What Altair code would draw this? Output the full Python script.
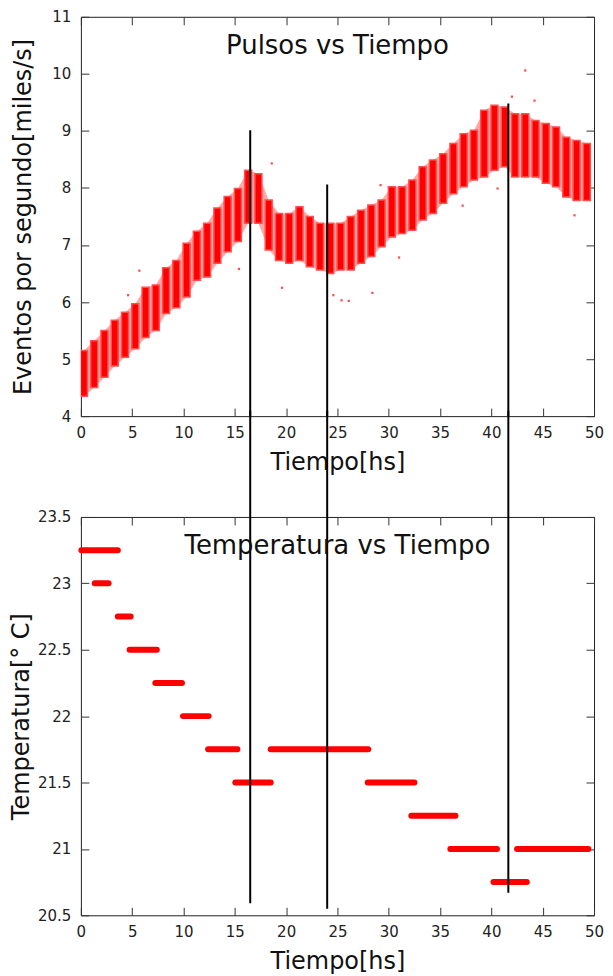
import altair as alt
import pandas as pd

FONT = "DejaVu Sans"
RED = "#ff0000"

# ---- Top panel: pulses (streak centres in hours, lower / upper edge of each streak) ----
pulse_t = [0.3, 1.3, 2.3, 3.3, 4.3, 5.3, 6.3, 7.3, 8.3, 9.3,
           10.3, 11.3, 12.3, 13.3, 14.3, 15.3, 16.3, 17.3, 18.3, 19.3,
           20.3, 21.3, 22.3, 23.3, 24.3, 25.3, 26.3, 27.3, 28.3, 29.3,
           30.3, 31.3, 32.3, 33.3, 34.3, 35.3, 36.3, 37.3, 38.3, 39.3,
           40.3, 41.3, 42.3, 43.3, 44.3, 45.3, 46.3, 47.3, 48.3, 49.3]
pulse_lo = [4.35, 4.50, 4.68, 4.88, 5.03, 5.18, 5.38, 5.50, 5.80, 5.90,
            6.09, 6.38, 6.44, 6.68, 6.88, 7.06, 7.38, 7.38, 6.91, 6.73,
            6.68, 6.73, 6.62, 6.56, 6.50, 6.56, 6.56, 6.68, 6.80, 6.97,
            7.14, 7.20, 7.26, 7.44, 7.55, 7.73, 7.90, 8.02, 8.14, 8.19,
            8.31, 8.37, 8.19, 8.19, 8.19, 8.08, 8.02, 7.84, 7.78, 7.78]
pulse_hi = [5.15, 5.32, 5.50, 5.68, 5.82, 5.97, 6.26, 6.30, 6.60, 6.73,
            7.03, 7.24, 7.38, 7.65, 7.85, 7.99, 8.31, 8.25, 7.79, 7.55,
            7.55, 7.67, 7.50, 7.38, 7.38, 7.38, 7.50, 7.61, 7.70, 7.79,
            8.02, 8.02, 8.14, 8.37, 8.49, 8.60, 8.78, 8.95, 9.01, 9.36,
            9.45, 9.42, 9.30, 9.30, 9.18, 9.13, 9.07, 8.89, 8.83, 8.78]

# isolated points outside the streaks
out_t = [4.6, 5.7, 15.4, 18.6, 19.6, 24.6, 25.4, 26.1, 28.4, 29.2,
         31.0, 37.2, 40.6, 42.0, 43.3, 44.2, 48.1]
out_v = [6.12, 6.55, 6.58, 8.43, 6.25, 6.12, 6.03, 6.02, 6.16, 8.05,
         6.78, 7.69, 7.99, 9.60, 10.06, 9.53, 7.52]

# ---- Bottom panel: temperature plateaus ----
temp_t0 = [0.05, 1.35, 3.60, 4.75, 7.25, 9.95, 12.40, 15.05, 18.50, 27.95, 32.20, 36.00, 40.20, 42.50]
temp_t1 = [3.60, 2.70, 4.85, 7.40, 9.85, 12.45, 15.25, 18.50, 28.00, 32.50, 36.50, 40.55, 43.45, 49.45]
temp_v = [23.25, 23.00, 22.75, 22.50, 22.25, 22.00, 21.75, 21.50, 21.75, 21.50, 21.25, 21.00, 20.75, 21.00]

# ---- Black vertical marker lines (hours, top end in pulses, bottom end in temperature) ----
mark_t = [16.5, 24.0, 41.65]
mark_top = [9.01, 8.06, 9.48]
mark_bottom = [20.59, 20.55, 20.67]

panel_titles = ["Pulsos vs Tiempo", "Temperatura vs Tiempo"]
x_ticks = [0, 5, 10, 15, 20, 25, 30, 35, 40, 45, 50]
y1_ticks = [4, 5, 6, 7, 8, 9, 10, 11]
y2_ticks = [20.5, 21, 21.5, 22, 22.5, 23, 23.5]

W = 514
H1 = 400
H2 = 399
GAP = 101
TICK = 8

pulse_df = pd.DataFrame({"t": pulse_t, "lo": pulse_lo, "hi": pulse_hi})
out_df = pd.DataFrame({"t": out_t, "v": out_v})
temp_df = pd.DataFrame({"t0": temp_t0, "t1": temp_t1, "temp": temp_v})
mark_df = pd.DataFrame({"t": mark_t, "top": mark_top, "bottom": mark_bottom})

xs = alt.Scale(domain=[0, 50], nice=False, zero=False, padding=0)
ys1 = alt.Scale(domain=[4, 11], nice=False, zero=False, padding=0)
ys2 = alt.Scale(domain=[20.5, 23.5], nice=False, zero=False, padding=0)


def x_main():
    return alt.Axis(orient="bottom", offset=-TICK, tickSize=TICK, domain=False,
                    values=x_ticks, labelPadding=9, labelFlush=False,
                    title="Tiempo[hs]", titlePadding=10)


def x_mirror():
    return alt.Axis(orient="top", offset=-TICK, tickSize=TICK, domain=False,
                    values=x_ticks, labels=False, title=None, minExtent=0)


def y_main(vals, title, tpad):
    return alt.Axis(orient="left", offset=-TICK, tickSize=TICK, domain=False,
                    values=vals, labelPadding=10, labelFlush=False, format="~g",
                    title=title, titlePadding=tpad)


def y_mirror(vals):
    return alt.Axis(orient="right", offset=-TICK, tickSize=TICK, domain=False,
                    values=vals, labels=False, title=None, minExtent=0)


# ---------- top panel ----------
band = alt.Chart(pulse_df).mark_area(color="#ffa8a8", clip=True).encode(
    x=alt.X("t:Q", scale=xs, axis=None),
    y=alt.Y("lo:Q", scale=ys1, axis=None),
    y2="hi:Q",
)
streaks = alt.Chart(pulse_df).mark_bar(size=7, color=RED, stroke="#ff5050",
                                       strokeWidth=1.5, clip=True).encode(
    x=alt.X("t:Q", scale=xs, axis=x_main()),
    y=alt.Y("lo:Q", scale=ys1, axis=y_main(y1_ticks, "Eventos por segundo[miles/s]", 16)),
    y2="hi:Q",
)
outliers = alt.Chart(out_df).mark_square(size=5, color=RED, opacity=0.7).encode(
    x=alt.X("t:Q", scale=xs, axis=x_mirror()),
    y=alt.Y("v:Q", scale=ys1, axis=y_mirror(y1_ticks)),
)
marks_top = alt.Chart(mark_df).mark_rule(color="black", strokeWidth=2, clip=False).encode(
    x=alt.X("t:Q", scale=xs, axis=None),
    y=alt.Y("top:Q", scale=ys1, axis=None),
    y2=alt.Y2Datum(4),
)
title_top = alt.Chart(pd.DataFrame({"label": [panel_titles[0]]})).mark_text(
    font=FONT, fontSize=26, align="center", baseline="middle", color="#111"
).encode(text="label:N", x=alt.value(W / 2), y=alt.value(29))

top = alt.layer(band, streaks, outliers, marks_top, title_top).resolve_axis(
    x="independent", y="independent").properties(width=W, height=H1)

# ---------- bottom panel ----------
plateaus = alt.Chart(temp_df).mark_rule(color=RED, strokeWidth=6, strokeCap="round").encode(
    x=alt.X("t0:Q", scale=xs, axis=x_main()),
    x2="t1:Q",
    y=alt.Y("temp:Q", scale=ys2, axis=y_main(y2_ticks, "Temperatura[° C]", 4)),
)
marks_bottom = alt.Chart(mark_df).mark_rule(color="black", strokeWidth=2, clip=False).encode(
    x=alt.X("t:Q", scale=xs, axis=x_mirror()),
    y=alt.Y("bottom:Q", scale=ys2, axis=y_mirror(y2_ticks)),
    y2=alt.Y2Datum(24.3),
)
title_bottom = alt.Chart(pd.DataFrame({"label": [panel_titles[1]]})).mark_text(
    font=FONT, fontSize=26, align="center", baseline="middle", color="#111"
).encode(text="label:N", x=alt.value(W / 2), y=alt.value(29))

bottom = alt.layer(plateaus, marks_bottom, title_bottom).resolve_axis(
    x="independent", y="independent").properties(width=W, height=H2)

chart = alt.vconcat(top, bottom, spacing=GAP, bounds="flush").properties(
    padding={"left": 1, "top": 0, "right": 0, "bottom": 0}
).configure(font=FONT).configure_view(
    stroke="#222", strokeWidth=1
).configure_axis(
    grid=False, labelFont=FONT, labelFontSize=15, labelColor="#222",
    tickColor="#333", tickWidth=1, titleFont=FONT, titleFontSize=24,
    titleFontWeight="normal", titleColor="#111"
)

chart.save("out.html", embed_options={"renderer": "svg", "actions": False})
